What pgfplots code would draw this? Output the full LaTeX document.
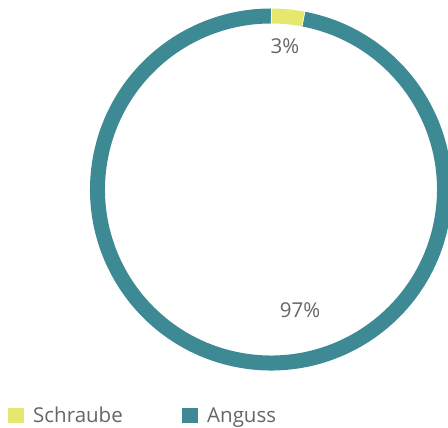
\documentclass[border=0pt]{standalone}
\usepackage{pgfplots}
\pgfplotsset{compat=1.18}
\usepackage{pgfplotstable}
\usepackage{fontspec}
\setmainfont{Open Sans}
\definecolor{tealc}{HTML}{3E8A94}
\definecolor{yelc}{HTML}{E6E86E}
\definecolor{txtc}{HTML}{666666}
\pgfplotstableread{
label value
Schraube 3
Anguss 97
}\datatable
\begin{document}
\begin{tikzpicture}
\pgfplotstablegetelem{0}{value}\of\datatable
\pgfmathsetmacro{\va}{\pgfplotsretval}
\pgfmathsetmacro{\aend}{90-3.6*\va}
\begin{axis}[x=1pt,y=1pt,xmin=0,xmax=448,ymin=0,ymax=428,hide axis,clip=false,
  scale only axis]
\coordinate (bl) at (axis cs:0,0);
\coordinate (tr) at (axis cs:448,428);
% Anguss (teal)
\draw[tealc, line width=15pt] (axis cs:271,238.5) ++(\aend:173.5pt) arc[start angle=\aend, end angle=-270, radius=173.5pt];
% Schraube (yellow)
\draw[yelc, line width=15pt] (axis cs:271,238.5) ++(90:173.5pt) arc[start angle=90, end angle=\aend, radius=173.5pt];
\draw[white, line width=0.6pt] (axis cs:271,238.5) ++(90:165pt) -- ++(90:17pt);
\draw[white, line width=0.6pt] (axis cs:271,238.5) ++(\aend:165pt) -- ++(\aend:17pt);
\node[txtc, font=\fontsize{20.5}{24}\selectfont] at (axis cs:285,382) {3\%};
\node[txtc, font=\fontsize{20.5}{24}\selectfont] at (axis cs:300,118) {97\%};
% legend
\fill[yelc] (axis cs:8,5) rectangle (axis cs:24,20);
\node[txtc, anchor=base west, font=\fontsize{20.5}{24}\selectfont, inner sep=0pt] at (axis cs:33,5.5) {Schraube};
\fill[tealc] (axis cs:182,5) rectangle (axis cs:198,20);
\node[txtc, anchor=base west, font=\fontsize{20.5}{24}\selectfont, inner sep=0pt] at (axis cs:207,5.5) {Anguss};
\end{axis}
\pgfresetboundingbox
\path[use as bounding box] (bl) rectangle (tr);
\end{tikzpicture}
\end{document}
